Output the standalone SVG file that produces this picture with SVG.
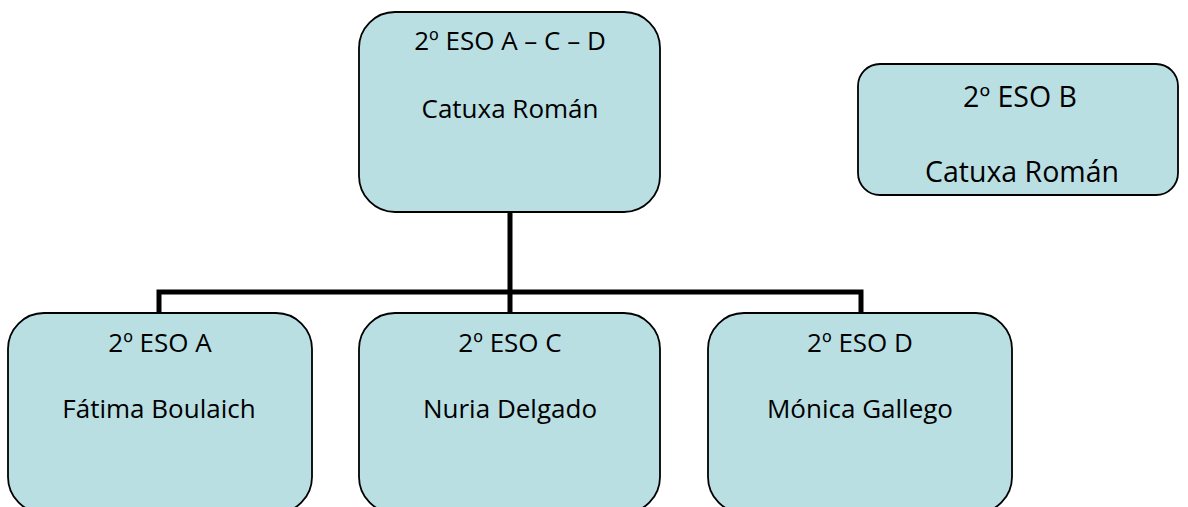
<svg xmlns="http://www.w3.org/2000/svg" width="1188" height="507" viewBox="0 0 1188 507">
<style>
.box{fill:#B9DFE3;stroke:#000;stroke-width:1.8}
.t{font-family:"Open Sans","Liberation Sans",sans-serif;font-size:26px;fill:#000;text-anchor:middle}
.tb{font-size:28.5px}
.conn{fill:none;stroke:#000;stroke-width:5}
</style>
<rect width="1188" height="507" fill="#fff"/>
<g id="connectors">
<path class="conn" d="M510,212 V292 M159,313 V292 H861 V313 M510,292 V313"/>
</g>
<g id="top">
<rect class="box" x="359" y="12" width="301" height="200" rx="36"/>
<text class="t" x="510" y="50">2º ESO A – C – D</text>
<text class="t" x="510" y="118">Catuxa Román</text>
</g>
<g id="b">
<rect class="box" x="858" y="64" width="320" height="131" rx="22"/>
<text class="t tb" x="1020" y="107">2º ESO B</text>
<text class="t tb" x="1022" y="182">Catuxa Román</text>
</g>
<g id="a">
<rect class="box" x="8" y="313" width="304" height="200" rx="36"/>
<text class="t" x="160" y="352">2º ESO A</text>
<text class="t" x="159" y="418">Fátima Boulaich</text>
</g>
<g id="c">
<rect class="box" x="359" y="313" width="301" height="200" rx="36"/>
<text class="t" x="510" y="352">2º ESO C</text>
<text class="t" x="510" y="418">Nuria Delgado</text>
</g>
<g id="d">
<rect class="box" x="708" y="313" width="304" height="200" rx="36"/>
<text class="t" x="860" y="352">2º ESO D</text>
<text class="t" x="860" y="418">Mónica Gallego</text>
</g>
</svg>
